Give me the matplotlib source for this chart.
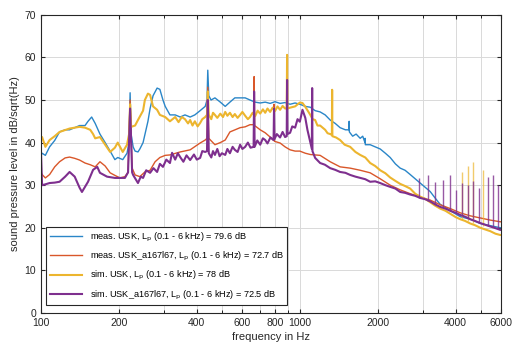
import numpy as np
import matplotlib
matplotlib.use('Agg')
import matplotlib.pyplot as plt
from matplotlib.ticker import FixedLocator, NullFormatter

plt.rcParams['font.family'] = ['Liberation Sans', 'DejaVu Sans']

# --- data (frequency in Hz, level in dB/sqrt(Hz)) ---
meas_usk_f = [100, 101, 104, 108, 113, 118, 124, 129, 135, 141, 148, 152, 157, 162, 169, 177, 185, 193, 198,
              207, 215, 219, 221, 223, 227, 231, 237, 241, 248, 259, 264, 271, 281, 288, 296, 302, 315, 330,
              345, 360, 377, 393, 412, 431, 438, 441, 445, 454, 470, 493, 515, 537, 561, 588, 615, 642, 672,
              703, 735, 768, 802, 839, 877, 917, 959, 1000, 1050, 1098, 1146, 1198, 1253, 1310, 1370, 1431,
              1500, 1548, 1551, 1554, 1600, 1650, 1711, 1750, 1785, 1788, 1791, 1870, 1955, 2044, 2140, 2234,
              2340, 2442, 2550, 2669, 2790, 2917, 3050, 3189, 3330, 3485, 3650, 3811, 4166, 4554, 4978, 5440,
              5947, 6000]
meas_usk_db = [37, 37.5, 37, 39, 40.5, 42.5, 43, 43, 43.5, 44, 44, 45, 46, 44.5, 42, 40, 38, 36, 36.5,
               36, 37.5, 40, 51.7, 42, 39, 38, 37.8, 38.5, 40, 45, 48, 51, 52.8, 52.5, 50, 48.5, 46.5, 46.5,
               46, 46.5, 46, 46.5, 47.5, 48.5, 50, 57, 51, 50, 50.5, 49.5, 48.5, 49.5, 50.5, 50.5, 50.5, 50, 49.5,
               49.3, 49.5, 49.2, 49.6, 49.2, 49.4, 49, 49.3, 49, 48.5, 48.3, 47.5, 47.2, 46.5, 45.3, 44.5, 43.5,
               43, 43, 45, 42.5, 41.5, 42, 41, 41.5, 40, 41, 39.5, 39.5, 39, 38.5, 37.5, 36.5,
               35, 34, 33.5, 32.5, 31.5, 30.5, 29.5, 28.5, 27, 25.5, 24.8, 24, 22.6, 22, 21, 20.5,
               20, 20]

meas_a_f = [100, 101, 104, 108, 113, 118, 124, 129, 135, 141, 148, 155, 162, 169, 177, 185, 193, 202, 211,
            217, 221, 225, 231, 241, 252, 264, 276, 288, 302, 315, 345, 377, 412, 431, 438, 441, 445, 470,
            493, 515, 537, 588, 615, 642, 663, 666, 669, 703, 735, 768, 792, 795, 798, 839, 877, 917, 959,
            1000, 1050, 1098, 1198, 1310, 1431, 1565, 1711, 1870, 2044, 2234, 2442, 2669, 2917, 3189, 3485,
            3811, 4166, 4554, 4978, 5440, 5947, 6000]
meas_a_db = [33, 32.5, 31.7, 32.5, 34.3, 35.5, 36.4, 36.6, 36.3, 35.9, 35.2, 34.8, 34.3, 35.5, 34.5, 32.9,
             32.3, 31.7, 32, 33, 50, 34, 32.4, 32, 33.1, 33.5, 35.5, 36.5, 37, 37.1, 37.8, 38.3, 39.9, 40.6,
             41, 53, 41, 39.5, 40, 40.6, 42.5, 43.5, 43.7, 44.2, 44.2, 55.5, 44, 43, 42.3, 41.3, 40.5, 49,
             40.3, 39.9, 39, 38.3, 38, 38, 37.5, 37.2, 37, 35.5, 34.3, 34, 33.5, 32.9, 31.5, 30, 28.9, 28,
             27.2, 26.5, 25.4, 24.5, 23.5, 22.8, 22.3, 21.8, 21.4, 21.4]

sim_usk_f = [100, 101, 104, 108, 113, 118, 129, 135, 141, 148, 155, 159, 162, 169, 177, 185, 193, 198, 202,
             207, 215, 219, 221, 223, 231, 237, 248, 252, 259, 264, 271, 281, 288, 302, 315, 330, 340, 350,
             360, 370, 377, 385, 393, 403, 412, 420, 431, 438, 441, 445, 455, 462, 470, 480, 493, 505, 515,
             525, 537, 550, 561, 575, 588, 600, 615, 630, 642, 657, 672, 687, 703, 720, 735, 750, 768, 785,
             802, 820, 839, 858, 877, 890, 893, 896, 917, 959, 1000, 1024, 1050, 1098, 1120, 1146, 1170, 1198,
             1225, 1253, 1280, 1310, 1330, 1333, 1336, 1380, 1431, 1490, 1565, 1640, 1711, 1790, 1870, 1955,
             2044, 2140, 2234, 2340, 2442, 2550, 2669, 2790, 2917, 3050, 3189, 3330, 3485, 3650, 3811, 4000,
             4166, 4350, 4554, 4750, 4978, 5200, 5440, 5700, 5947, 6000]
sim_usk_db = [41, 41.3, 39, 40.6, 41.5, 42.5, 43.3, 43.5, 43.7, 43.5, 43, 42, 41, 41.3, 39.5, 37.8, 38.8,
              40, 39, 37.8, 39.5, 42, 49, 43.7, 44, 45.3, 47.5, 50, 51.5, 51.2, 48.5, 47.7, 46.5, 46, 45,
              46, 44.8, 46, 45.5, 44.5, 45.3, 44, 45, 43.8, 44.6, 45.5, 46, 46.5, 52, 46.5, 45.5, 47, 46.5,
              45.8, 46.8, 46, 47.2, 46.3, 47, 46, 46.7, 45.8, 46.5, 47.2, 46.3, 45.5, 46, 47, 46.2, 47.5,
              46.8, 47.8, 47, 48, 47.2, 48.2, 47.4, 48.5, 47.7, 48.6, 48, 48, 60.6, 48, 48.2, 48.5, 49.4,
              49.3, 48.4, 46.5, 45.5, 45.3, 44, 44, 43.5, 43, 42.2, 42, 41.8, 52.4, 41.5, 41.2, 40.6, 39.5,
              39, 37.8, 37.1, 36.5, 35.2, 34.5, 33.5, 32.8, 31.8, 31, 30.3, 29.8, 29.2, 28, 27.3, 26.8, 26,
              25.2, 24.5, 24, 23.3, 22.5, 22, 21.6, 21, 20.6, 20, 19.6, 19.2, 18.6, 18.3, 18.3]

sim_a_f = [100, 101, 104, 108, 113, 118, 124, 129, 135, 141, 144, 152, 159, 165, 169, 180, 193, 211, 217,
           221, 225, 227, 237, 243, 248, 255, 264, 272, 281, 288, 296, 305, 315, 321, 330, 338, 345, 355,
           365, 377, 390, 400, 412, 420, 431, 438, 441, 445, 455, 462, 470, 480, 490, 500, 515, 525, 537,
           550, 561, 575, 588, 600, 615, 630, 645, 663, 666, 669, 685, 703, 720, 735, 750, 770, 792, 795,
           798, 815, 839, 858, 877, 890, 893, 896, 917, 935, 959, 980, 1000, 1024, 1050, 1070, 1098, 1113,
           1116, 1119, 1146, 1198, 1250, 1310, 1370, 1431, 1500, 1565, 1640, 1711, 1790, 1870, 1955, 2044,
           2140, 2234, 2340, 2442, 2550, 2669, 2790, 2917, 3050, 3189, 3330, 3485, 3650, 3811, 4000, 4166,
           4350, 4554, 4750, 4978, 5200, 5440, 5700, 5947, 6000]
sim_a_db = [37.8, 30, 30.2, 30.5, 30.6, 30.8, 32, 33.1, 32, 29.4, 28.4, 30.8, 33.6, 34.3, 32.9, 32, 31.7,
            31.7, 33, 48, 33, 32.4, 30.5, 32, 31.7, 33.5, 32.9, 34, 33.1, 35, 34.3, 36, 35.2, 37.6, 36,
            37.5, 36.6, 35.5, 37, 35.9, 37.2, 36, 36.4, 38, 37.8, 38, 50, 37.5, 36.5, 38, 37.1, 38.5,
            36.8, 37.5, 37.1, 38.5, 37.5, 39, 38.3, 37.8, 39.5, 38.5, 39, 40, 38.8, 39, 52, 39, 40.5, 39.5,
            41, 40.6, 39.8, 41.2, 40.6, 48, 40.8, 42, 41.2, 42.5, 41.3, 41.5, 54.7, 42, 42.3, 43.8, 43.5,
            45.5, 44.9, 47.7, 45.8, 43, 40, 38.5, 52.8, 38, 36.4, 35.2, 34.8, 34, 33.6, 33.1, 32.9, 32.4,
            32, 31.7, 31.4, 30.8, 30.9, 30.5, 30, 29.6, 29.2, 28.4, 28.2, 27.8, 27.5, 27, 26.7, 26.2, 25.5,
            24.9, 24.5, 24, 23.5, 23, 22.6, 22, 21.6, 21.1, 20.7, 20.3, 19.9, 19.5, 19.5]

# narrow tonal lines at high frequency: (frequency, base level, peak level)
sim_usk_lines_f = [4240, 4475, 4676, 5115]
sim_usk_lines_lo = [22, 21.5, 21, 20.5]
sim_usk_lines_hi = [33, 34.5, 35.5, 33.6]
sim_a_lines_f = [2893, 3133, 3335, 3580, 3813, 4020, 4240, 4475, 4676, 4934, 5345, 5589, 5844]
sim_a_lines_lo = [27, 26.2, 25.6, 24.9, 24, 23.5, 23, 22.4, 22, 21.2, 20.5, 20.1, 19.7]
sim_a_lines_hi = [31.7, 32.4, 30.8, 31.2, 32.4, 28.9, 30.5, 30, 31, 29.4, 32, 32.4, 30]

labels = ['meas. USK, L$_\\mathrm{p}$ (0.1 - 6 kHz) = 79.6 dB',
          'meas. USK_a167l67, L$_\\mathrm{p}$ (0.1 - 6 kHz) = 72.7 dB',
          'sim. USK, L$_\\mathrm{p}$ (0.1 - 6 kHz) = 78 dB',
          'sim. USK_a167l67, L$_\\mathrm{p}$ (0.1 - 6 kHz) = 72.5 dB']
xticks = [100, 200, 400, 600, 800, 1000, 2000, 4000, 6000]
xminor = [300, 500, 700, 900, 3000, 5000]

c_blue, c_red, c_yel, c_pur = '#2a86c8', '#d9572a', '#ecb52e', '#7e2f8e'

fig = plt.figure(figsize=(5.12, 3.45), dpi=100)
ax = fig.add_axes([0.080, 0.093, 0.899, 0.864])

ax.plot(meas_usk_f, meas_usk_db, color=c_blue, lw=1.0, label=labels[0])
ax.plot(meas_a_f, meas_a_db, color=c_red, lw=1.0, label=labels[1])
ax.plot(sim_usk_f, sim_usk_db, color=c_yel, lw=1.5, label=labels[2])
ax.vlines(sim_usk_lines_f, sim_usk_lines_lo, sim_usk_lines_hi, color=c_yel, lw=1.0, alpha=0.7)
ax.plot(sim_a_f, sim_a_db, color=c_pur, lw=1.5, label=labels[3])
ax.vlines(sim_a_lines_f, sim_a_lines_lo, sim_a_lines_hi, color=c_pur, lw=1.0, alpha=0.8)

ax.set_xscale('log')
ax.set_xlim(100, 6000)
ax.set_ylim(0, 70)
ax.xaxis.set_major_locator(FixedLocator(xticks))
ax.set_xticklabels([str(t) for t in xticks])
ax.xaxis.set_minor_locator(FixedLocator(xminor))
ax.xaxis.set_minor_formatter(NullFormatter())
ax.set_yticks(np.arange(0, 71, 10))
ax.grid(True, which='both', color='#d9d9d9', lw=0.7)
ax.set_axisbelow(True)
ax.tick_params(direction='in', top=True, right=True, labelsize=7.5, colors='#262626', length=3)
ax.tick_params(which='minor', direction='in', top=True, length=2)
for s in ax.spines.values():
    s.set_color('#262626')
    s.set_linewidth(0.8)

ax.set_xlabel('frequency in Hz', fontsize=8, color='#262626', labelpad=3)
ax.set_ylabel('sound pressure level in dB/sqrt(Hz)', fontsize=8, color='#262626', labelpad=3)

leg = ax.legend(loc='lower left', bbox_to_anchor=(0.012, 0.025), borderaxespad=0, fontsize=6.6,
                handlelength=3.5, labelspacing=0.68, fancybox=False, framealpha=1, edgecolor='#262626')
leg.get_frame().set_linewidth(0.8)

fig.savefig('out.png', dpi=100)
